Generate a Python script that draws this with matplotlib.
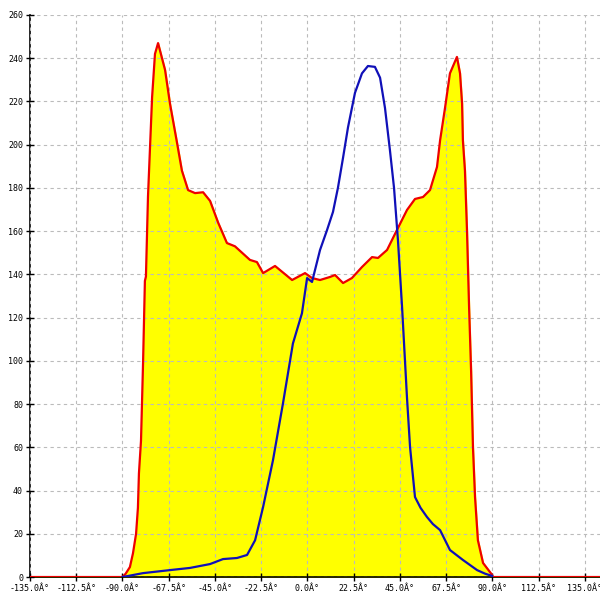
import matplotlib
matplotlib.use("Agg")
import matplotlib.pyplot as plt

# red (filled) distribution
red_x = [-135.0, -90.0, -88.5, -86.4, -84.9, -83.4, -82.5, -82.0, -81.0, -80.0,
         -79.1, -78.6, -77.6, -75.6, -74.2, -72.7, -69.3, -66.9, -63.5, -61.1,
         -58.1, -54.7, -50.8, -47.4, -43.5, -39.2, -35.3, -28.0, -24.6, -21.6,
         -15.8, -7.5, -1.2, 2.2, 6.1, 10.9, 13.4, 17.3, 21.6, 26.5,
         31.4, 34.3, 38.7, 43.5, 48.4, 52.3, 56.2, 59.6, 63.0, 64.5,
         66.9, 69.3, 72.7, 74.2, 75.2, 75.6, 76.6, 77.6, 78.6, 79.6,
         80.5, 81.5, 82.9, 85.4, 89.8, 90.0, 143.0]
red_y = [0, 0, 1.5, 4.6, 11, 20, 32, 48, 63, 99,
         137, 139, 176, 222, 242, 247, 234.6, 219, 201, 188,
         179, 177.6, 178, 174, 164, 154.5, 153, 146.7, 145.7, 140.6,
         143.9, 137.4, 140.6, 138.3, 137.4, 138.8, 139.7, 136, 138.3, 143.4,
         148, 147.6, 151.3, 160.5, 169.8, 174.9, 175.8, 179, 189.7, 202,
         217, 233, 240.6, 233, 219, 202, 188, 160, 125, 95,
         60, 37, 17, 6.5, 1, 0, 0]

# blue distribution
blue_x = [-90.0, -80.0, -66.9, -57.2, -47.4, -41.1, -34.3, -29.4, -25.5, -21.6,
          -16.8, -11.9, -7.1, -2.7, -0.2, 2.2, 6.1, 9.5, 12.4, 14.8,
          17.3, 19.7, 23.1, 26.5, 29.4, 32.8, 35.3, 37.7, 40.1, 42.1,
          44.0, 46.0, 48.4, 49.9, 52.3, 55.0, 58.1, 61.0, 64.5, 69.3,
          75.6, 82.5, 86.5, 89.8]
blue_y = [0, 1.8, 3.2, 4.2, 6, 8.3, 8.8, 10.2, 17, 32.4,
          54, 80.5, 108, 122, 138.3, 136.5, 151.3, 160.5, 168.9, 180,
          194, 208, 224, 233, 236.4, 236, 231, 217, 197.5, 180,
          155.9, 125, 83, 60, 37, 32, 27.8, 24.5, 21.7, 12.5,
          7.9, 3.2, 1.5, 0.5]

x_ticks = [-135.0, -112.5, -90.0, -67.5, -45.0, -22.5, 0.0, 22.5, 45.0, 67.5, 90.0, 112.5, 135.0]
y_ticks = list(range(0, 261, 20))

fig = plt.figure(figsize=(6, 6), dpi=100)
ax = fig.add_axes([0.05, 0.0383, 0.95, 0.9367])

ax.fill_between(red_x, red_y, 0, color="#FFFF00", zorder=1)
ax.grid(True, color="#BBBBBB", linestyle=(0, (3, 3)), linewidth=0.8, zorder=2)
ax.set_axisbelow(False)
ax.plot(red_x, red_y, color="#EE0000", linewidth=1.6, zorder=4)
ax.plot(blue_x, blue_y, color="#1010B8", linewidth=1.6, zorder=5)

ax.set_xlim(-135, 142.3)
ax.set_ylim(0, 260)
ax.set_xticks(x_ticks)
ax.set_xticklabels([f"{t:.1f}\u00c2\u00b0" for t in x_ticks])
ax.set_yticks(y_ticks)
ax.set_yticklabels([str(t) for t in y_ticks])

for lab in ax.get_xticklabels() + ax.get_yticklabels():
    lab.set_fontfamily("DejaVu Sans Mono")
    lab.set_fontsize(6)

ax.tick_params(axis="both", direction="inout", length=6, width=1, color="black", pad=2)
ax.spines["top"].set_visible(False)
ax.spines["right"].set_visible(False)
ax.spines["left"].set_linewidth(1.2)
ax.spines["bottom"].set_linewidth(1.2)

fig.savefig("out.png", dpi=100)
